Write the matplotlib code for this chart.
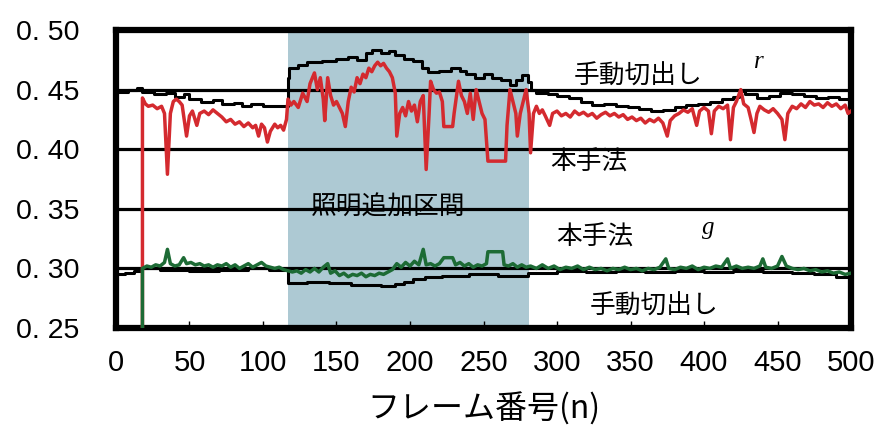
import numpy as np
import matplotlib
matplotlib.use('Agg')
import matplotlib.pyplot as plt

# --- data ---
# r channel, proposed method (red)
r_x = [18, 18, 20, 22, 25, 28, 31, 33, 35, 37, 39, 41, 43, 45, 48, 50, 52, 55, 57, 60,
       63, 66, 69, 72, 75, 78, 81, 84, 87, 90, 93, 95, 97, 99, 101, 103, 105, 108, 110, 112,
       114, 116, 117, 119, 121, 124, 127, 130, 132, 135, 137, 139, 141, 142, 144, 146, 148, 150, 152, 154,
       156, 158, 160, 162, 164, 166, 168, 170, 172, 174, 176, 178, 180, 182, 184, 186, 188, 190, 191, 193,
       195, 197, 199, 201, 203, 205, 207, 209, 211, 213, 214, 216, 218, 220, 222, 223, 226, 229, 230, 233,
       235, 237, 239, 241, 243, 245, 247, 249, 251, 253, 256, 259, 262, 265, 266, 268, 270, 272, 273, 275,
       277, 279, 281, 282, 284, 286, 288, 290, 292, 295, 297, 300, 303, 306, 309, 312, 315, 318, 321, 324,
       327, 330, 333, 336, 339, 342, 345, 348, 351, 354, 357, 360, 363, 366, 369, 372, 375, 377, 380, 383,
       386, 389, 392, 395, 397, 400, 403, 405, 407, 410, 413, 416, 418, 420, 422, 425, 427, 430, 432, 434,
       436, 438, 441, 444, 447, 450, 453, 455, 457, 460, 463, 466, 469, 472, 475, 478, 481, 484, 487, 490,
       493, 496, 498, 500]
r_y = [0.25, 0.443, 0.438, 0.436, 0.437, 0.434, 0.436, 0.430, 0.379, 0.430, 0.440, 0.442, 0.440, 0.437, 0.411, 0.428, 0.432, 0.420, 0.430, 0.432,
       0.429, 0.433, 0.430, 0.427, 0.423, 0.425, 0.421, 0.423, 0.419, 0.422, 0.418, 0.420, 0.411, 0.421, 0.418, 0.406, 0.415, 0.421, 0.418, 0.420,
       0.416, 0.425, 0.442, 0.437, 0.440, 0.435, 0.447, 0.440, 0.455, 0.464, 0.450, 0.460, 0.442, 0.424, 0.460, 0.445, 0.437, 0.440, 0.435, 0.430,
       0.419, 0.440, 0.452, 0.448, 0.460, 0.455, 0.463, 0.460, 0.468, 0.465, 0.470, 0.473, 0.470, 0.472, 0.468, 0.465, 0.460, 0.447, 0.411, 0.430,
       0.435, 0.428, 0.440, 0.432, 0.437, 0.423, 0.440, 0.445, 0.383, 0.430, 0.457, 0.450, 0.447, 0.448, 0.440, 0.419, 0.419, 0.419, 0.430, 0.457,
       0.445, 0.440, 0.430, 0.447, 0.425, 0.450, 0.440, 0.430, 0.425, 0.390, 0.390, 0.390, 0.390, 0.390, 0.420, 0.450, 0.440, 0.430, 0.411, 0.430,
       0.440, 0.450, 0.430, 0.397, 0.430, 0.436, 0.430, 0.433, 0.428, 0.420, 0.430, 0.432, 0.428, 0.430, 0.427, 0.432, 0.429, 0.431, 0.428, 0.430,
       0.426, 0.429, 0.431, 0.428, 0.430, 0.427, 0.429, 0.425, 0.427, 0.424, 0.426, 0.422, 0.425, 0.423, 0.426, 0.422, 0.411, 0.424, 0.428, 0.430,
       0.433, 0.431, 0.434, 0.420, 0.432, 0.435, 0.432, 0.413, 0.432, 0.436, 0.434, 0.437, 0.408, 0.435, 0.440, 0.450, 0.438, 0.435, 0.425, 0.414,
       0.430, 0.436, 0.433, 0.431, 0.434, 0.430, 0.425, 0.408, 0.430, 0.436, 0.434, 0.438, 0.435, 0.440, 0.437, 0.438, 0.435, 0.439, 0.436, 0.438,
       0.434, 0.437, 0.430, 0.432]

# r channel, manual cut-out (black, stepped)
rm_x = [0, 8, 14, 18, 26, 34, 40, 46, 50, 58, 66, 72, 80, 86, 92, 100, 108, 117, 118, 124,
        130, 140, 150, 158, 164, 170, 174, 180, 186, 190, 196, 202, 208, 212, 220, 228, 234, 238, 244, 250,
        256, 262, 268, 272, 276, 280, 282, 286, 294, 300, 308, 316, 324, 332, 340, 348, 356, 364, 372, 380,
        388, 396, 404, 412, 420, 424, 428, 436, 444, 452, 460, 468, 476, 484, 492, 500]
rm_y = [0.448, 0.450, 0.451, 0.448, 0.446, 0.447, 0.444, 0.446, 0.442, 0.440, 0.441, 0.438, 0.439, 0.436, 0.438, 0.436, 0.436, 0.460, 0.468, 0.471,
        0.473, 0.474, 0.476, 0.477, 0.475, 0.481, 0.483, 0.481, 0.482, 0.479, 0.476, 0.474, 0.468, 0.465, 0.466, 0.468, 0.466, 0.463, 0.460, 0.463,
        0.460, 0.458, 0.454, 0.458, 0.462, 0.456, 0.450, 0.447, 0.446, 0.445, 0.443, 0.440, 0.437, 0.438, 0.436, 0.435, 0.434, 0.432, 0.433, 0.435,
        0.437, 0.438, 0.440, 0.442, 0.444, 0.449, 0.446, 0.443, 0.445, 0.447, 0.446, 0.445, 0.443, 0.444, 0.442, 0.441]

# g channel, proposed method (green)
g_x = [18, 18, 21, 24, 27, 30, 33, 35, 37, 40, 43, 46, 48, 51, 54, 57, 60, 63, 66, 69,
       72, 75, 78, 81, 84, 87, 90, 93, 96, 99, 102, 105, 108, 111, 114, 117, 120, 123, 126, 129,
       132, 135, 138, 141, 144, 146, 149, 152, 155, 158, 161, 164, 167, 170, 173, 176, 179, 182, 185, 188,
       191, 194, 197, 200, 203, 206, 209, 211, 214, 217, 220, 223, 226, 229, 231, 234, 237, 240, 243, 246,
       249, 252, 253, 256, 260, 263, 264, 267, 270, 273, 276, 279, 282, 286, 290, 294, 298, 302, 306, 310,
       314, 318, 322, 326, 330, 334, 338, 342, 346, 350, 354, 358, 362, 366, 370, 374, 376, 380, 384, 388,
       392, 396, 400, 404, 408, 412, 416, 418, 422, 426, 430, 434, 438, 440, 442, 446, 450, 453, 456, 460,
       464, 468, 472, 476, 480, 484, 488, 492, 496, 500]
g_y = [0.25, 0.300, 0.302, 0.301, 0.303, 0.302, 0.305, 0.316, 0.304, 0.302, 0.303, 0.309, 0.304, 0.305, 0.303, 0.304, 0.302, 0.303, 0.301, 0.303,
       0.302, 0.304, 0.301, 0.303, 0.300, 0.302, 0.304, 0.301, 0.303, 0.305, 0.302, 0.301, 0.300, 0.301, 0.299, 0.298, 0.297, 0.298, 0.296, 0.299,
       0.297, 0.300, 0.297, 0.301, 0.304, 0.296, 0.298, 0.294, 0.296, 0.293, 0.295, 0.294, 0.296, 0.293, 0.295, 0.294, 0.296, 0.295, 0.297, 0.299,
       0.304, 0.301, 0.305, 0.302, 0.306, 0.303, 0.316, 0.303, 0.304, 0.302, 0.304, 0.309, 0.309, 0.309, 0.303, 0.305, 0.302, 0.304, 0.301, 0.303,
       0.302, 0.304, 0.314, 0.314, 0.314, 0.314, 0.303, 0.302, 0.304, 0.301, 0.303, 0.301, 0.302, 0.300, 0.303, 0.300, 0.302, 0.299, 0.301, 0.300,
       0.302, 0.299, 0.301, 0.299, 0.300, 0.298, 0.300, 0.299, 0.301, 0.299, 0.300, 0.298, 0.300, 0.299, 0.301, 0.308, 0.300, 0.299, 0.301, 0.300,
       0.302, 0.299, 0.301, 0.300, 0.302, 0.301, 0.308, 0.300, 0.302, 0.300, 0.301, 0.300, 0.302, 0.308, 0.301, 0.300, 0.302, 0.310, 0.302, 0.300,
       0.299, 0.300, 0.298, 0.299, 0.297, 0.298, 0.296, 0.297, 0.295, 0.296]

# g channel, manual cut-out (black, stepped)
gm_x = [0, 6, 12, 18, 30, 50, 70, 90, 104, 117, 130, 145, 160, 180, 190, 196, 202, 210, 222, 240,
        260, 280, 300, 320, 340, 360, 380, 400, 420, 440, 460, 475, 490, 500]
gm_y = [0.295, 0.296, 0.298, 0.300, 0.299, 0.298, 0.299, 0.300, 0.299, 0.288, 0.289, 0.288, 0.286, 0.285, 0.287, 0.289, 0.291, 0.293, 0.294, 0.295,
        0.294, 0.296, 0.298, 0.297, 0.298, 0.297, 0.298, 0.297, 0.298, 0.297, 0.296, 0.295, 0.293, 0.293]

light_span = (117, 281)
x_ticks = [0, 50, 100, 150, 200, 250, 300, 350, 400, 450, 500]
y_ticks = [0.25, 0.30, 0.35, 0.40, 0.45, 0.50]
y_labels = ['0. 25', '0. 30', '0. 35', '0. 40', '0. 45', '0. 50']

jp = ['Noto Sans CJK JP', 'DejaVu Sans']
num = ['Liberation Sans', 'DejaVu Sans']

fig = plt.figure(figsize=(8.84, 4.28), dpi=100)
ax = fig.add_axes([0.1312, 0.2336, 0.8315, 0.6963])

# 照明追加区間 (shaded) and horizontal grid lines
ax.axvspan(*light_span, color='#adc9d3', lw=0, zorder=0)
for yv in y_ticks[1:-1]:
    ax.axhline(yv, color='black', lw=2.3, zorder=1)

ax.plot(rm_x, rm_y, drawstyle='steps-post', color='black', lw=2.2, zorder=3)
ax.plot(r_x, r_y, color='#d42a2f', lw=2.5, zorder=4)
ax.plot(gm_x, gm_y, drawstyle='steps-post', color='black', lw=2.2, zorder=3)
ax.plot(g_x, g_y, color='#1d6b35', lw=2.5, zorder=4)

ax.set_xlim(0, 500)
ax.set_ylim(0.25, 0.50)
ax.set_xticks(x_ticks)
ax.set_yticks(y_ticks)
ax.set_yticklabels(y_labels)
ax.tick_params(axis='x', direction='in', length=5, width=1, pad=15, labelsize=21)
ax.tick_params(axis='y', length=0, pad=26, labelsize=20.5)
for lab in ax.get_xticklabels() + ax.get_yticklabels():
    lab.set_family(num)
for s in ax.spines.values():
    s.set_linewidth(4.5)

ax.set_xlabel('フレーム番号(n)', family=jp, fontsize=23, labelpad=11)

# labels inside the plot
txt = dict(family=jp, fontsize=18.5, ha='center', va='center', zorder=5)
ax.text(355, 0.4606, '手動切出し', **txt)
ax.text(322, 0.3884, '本手法', **txt)
ax.text(185, 0.3507, '照明追加区間', **txt)
ax.text(326, 0.3255, '本手法', **txt)
ax.text(366, 0.2676, '手動切出し', **txt)
ax.text(437, 0.4732, 'r', family='Liberation Serif', style='italic', fontsize=18, ha='center', va='center')
ax.text(403, 0.3340, 'g', family='Liberation Serif', style='italic', fontsize=18, ha='center', va='center')

fig.savefig('out.png', dpi=100)
